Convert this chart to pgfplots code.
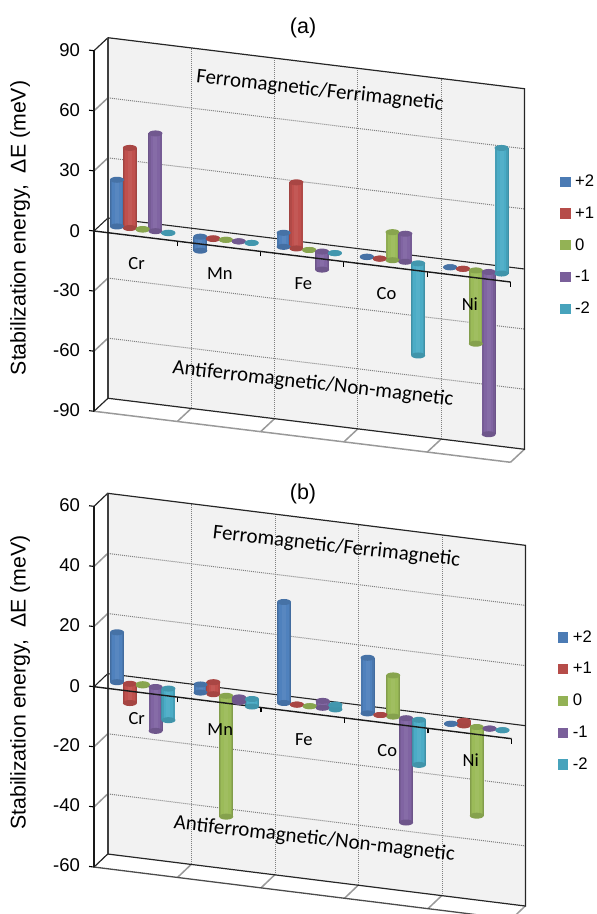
\documentclass[border=0pt]{standalone}
\usepackage{fontspec}
\usepackage{pgfplots}
\usepackage{pgfplotstable}
\pgfplotsset{compat=1.18}
\setmainfont{Liberation Sans}
\newfontfamily\calib{Carlito}
\definecolor{cA}{HTML}{4F81BD}
\definecolor{cB}{HTML}{C0504D}
\definecolor{cC}{HTML}{9BBB59}
\definecolor{cD}{HTML}{8064A2}
\definecolor{cE}{HTML}{4BACC6}
\definecolor{wallc}{HTML}{F2F2F2}
\pgfdeclareplotmark{cyl}{\pgfpathellipse{\pgfpointorigin}{\pgfqpoint{7pt}{0pt}}{\pgfqpoint{0pt}{3pt}}\pgfusepathqfill}
\newcommand\fz[1]{\fontsize{#1}{#1}\selectfont}
% every category has three rows: lower end of the bar, upper end, gap
% #1 colour, #2 x offset within the category, #3 column, #4 table, #5 legend text
\newcommand\cylpass[5]{\addplot[forget plot,barshift,unbounded coords=jump,no markers,line width=#1,color=#2] table[x expr=\thisrow{c}+#3,y=#4] {#5};}
\newcommand\cyl[5]{%
 \addplot[forget plot,barshift,lowrows,draw=none,only marks,mark=cyl,mark options={draw=none,fill=#1!86!black}] table[x expr=\thisrow{c}+#2,y=#3] {#4};
 \cylpass{14pt}{#1!84!black}{#2}{#3}{#4}
 \cylpass{12.4pt}{#1!92!black}{#2}{#3}{#4}
 \cylpass{9.6pt}{#1}{#2}{#3}{#4}
 \cylpass{4pt}{#1!95!white}{#2}{#3}{#4}
 \addplot[forget plot,barshift,highrows,draw=none,only marks,mark=cyl,mark options={draw=none,fill=#1!88!black}] table[x expr=\thisrow{c}+#2,y=#3] {#4};
 \addlegendimage{legend image code/.code={\fill[#1!95!black] (0pt,-4.7pt) rectangle (9.4pt,4.7pt);\path (12.5pt,0pt);}}
 \addlegendentry{#5}
}
\newcommand\allcyl[1]{%
 \cyl{cA}{0.192}{p2}{#1}{+2}
 \cyl{cB}{0.346}{p1}{#1}{+1}
 \cyl{cC}{0.5}{z}{#1}{0}
 \cyl{cD}{0.654}{m1}{#1}{-1}
 \cyl{cE}{0.808}{m2}{#1}{-2}
}
\pgfplotsset{
 lowrows/.style={skip coords between index={1}{3},skip coords between index={4}{6},skip coords between index={7}{9},skip coords between index={10}{12},skip coords between index={13}{15}},
 highrows/.style={skip coords between index={0}{1},skip coords between index={2}{4},skip coords between index={5}{7},skip coords between index={8}{10},skip coords between index={11}{13},skip coords between index={14}{15}},
 barshift/.style={shift={(7pt,6.5pt)}},
 wshift/.style={shift={(14pt,13pt)}},
 griddot/.style={densely dotted,line width=1pt,color=black!50},
 conn/.style={line width=1.5pt,color=black!40},
 panel/.style={
  anchor=origin,clip=false,axis on top,xmin=0,xmax=5,
  axis y line=left,axis x line=middle,axis line style={-,line width=1.3pt,color=black!90},
  x axis line style={line width=1.4pt},
  xtick={1,2,3,4,5},xticklabels={},
  xtick style={draw=black,line width=1.1pt},
  xticklabel style={font=\calib\fz{18.5},anchor=center,yshift=-27pt,xshift=1pt},
  extra x ticks={0.5,1.5,2.5,3.5,4.5},extra x tick labels={Cr,Mn,Fe,Co,Ni},
  extra x tick style={major tick length=0pt},
  ytick style={draw=black,line width=1.1pt},
  major tick length=5pt,tick align=outside,
  yticklabel style={font=\fz{18.5},inner xsep=9pt,yshift=-2pt},
  /pgf/number format/assume math mode=true,
  every axis y label/.style={rotate=90,anchor=center,font=\fz{21.3}},
  title style={anchor=center,font=\fz{21.5},yshift=-8pt},
  legend style={draw=none,fill=none,inner sep=0pt,anchor=west,font=\fz{16.7},row sep=14.7pt,legend cell align=left},
 },
}
\pgfplotstableread{
c p2 p1 z m1 m2
0 0 0 0 0 -0.2
0 23.3 40 0.3 48.8 0
0 nan nan nan nan nan
1 -7 -0.4 0 0 0
1 0 0 0 0 0
1 nan nan nan nan nan
2 0 0 0 -9 0
2 7 33 0 0 0
2 nan nan nan nan nan
3 0 0 0 0 -46
3 0.2 0 14 14 0
3 nan nan nan nan nan
4 0 0 -36.6 -81 0
4 0 0 0 0 62.7
4 nan nan nan nan nan
}\dataA
\pgfplotstableread{
c p2 p1 z m1 m2
0 0 -6.4 0 -14.6 -10.5
0 16.6 0 0.4 0 0
0 nan nan nan nan nan
1 0 0 -40.2 -1.5 -2.5
1 2.7 4 0 0 0
1 nan nan nan nan nan
2 0 0 0 0 0
2 33.6 0 0 2.3 1.6
2 nan nan nan nan nan
3 0 0 0 -34.7 -15
3 18.5 0 13.7 0 0
3 nan nan nan nan nan
4 0 0 -29.5 0 0
4 0 1.5 0 0 0
4 nan nan nan nan nan
}\dataB
\begin{document}
\begin{tikzpicture}
\path[use as bounding box] (0pt,0pt) rectangle (597pt,914pt);
% ---------- panel (a)
\begin{axis}[panel,at={(94pt,683pt)},x={(83.3pt,-10.2pt)},y={(0pt,2.003pt)},
 ymin=-90,ymax=90,ytick={-90,-60,-30,0,30,60,90},
 title={(a)},title style={at={(axis cs:2.51,115.2)}},
 ylabel={Stabilization energy,\ \ ΔE (meV)},
 ylabel style={at={(axis cs:-0.888,-3.0)}},
 legend style={at={(axis cs:5.594,21.5)}},
]
\addplot[forget plot,fill=wallc,draw=none,wshift] coordinates {(0,-90)(0,90)(5,90)(5,-90)} --cycle;
\pgfplotsinvokeforeach{-60,-30,30,60}{\addplot[forget plot,griddot,wshift] coordinates {(0,#1)(5,#1)};}
\pgfplotsinvokeforeach{1,2,3,4}{\addplot[forget plot,griddot,wshift] coordinates {(#1,-90)(#1,90)};}
\addplot[forget plot,conn] coordinates {(0,60)(0.168,67.36)};
\addplot[forget plot,conn] coordinates {(0,30)(0.168,37.36)};
\addplot[forget plot,conn] coordinates {(0,-30)(0.168,-22.64)};
\addplot[forget plot,conn] coordinates {(0,-60)(0.168,-52.64)};
\addplot[forget plot,conn] coordinates {(1,-90)(1.168,-82.64)};
\addplot[forget plot,conn] coordinates {(2,-90)(2.168,-82.64)};
\addplot[forget plot,conn] coordinates {(3,-90)(3.168,-82.64)};
\addplot[forget plot,conn] coordinates {(4,-90)(4.168,-82.64)};
\addplot[forget plot,conn] coordinates {(5,-90)(5.168,-82.64)};
\addplot[forget plot,conn] coordinates {(0,-90)(5,-90)};
\addplot[forget plot,line width=1.2pt,color=black!85] coordinates {(0,90)(0.168,97.36)};
\addplot[forget plot,line width=1.2pt,color=black!85] coordinates {(0,-90)(0.168,-82.64)};
\addplot[forget plot,line width=1.1pt,color=black!85] coordinates {(0,0)(0.168,7.36)};
\addplot[forget plot,line width=1.2pt,color=black!75,wshift] coordinates {(0,-90)(0,90)};
\addplot[forget plot,line width=1.2pt,color=black!85,wshift] coordinates {(0,90)(5,90)(5,-90)(0,-90)};
\addplot[forget plot,line width=1.1pt,color=black!85,wshift] coordinates {(0,0)(5,0)};
\allcyl{\dataA}
\end{axis}
% ---------- panel (b)
\begin{axis}[panel,at={(94pt,227.3pt)},x={(83.5pt,-10.4pt)},y={(0pt,3.006pt)},
 ymin=-60,ymax=60,ytick={-60,-40,-20,0,20,40,60},
 title={(b)},title style={at={(axis cs:2.503,73.4)}},
 ylabel={Stabilization energy,\ \ ΔE (meV)},
 ylabel style={at={(axis cs:-0.886,-1.67)}},
 legend style={at={(axis cs:5.553,14.55)}},
]
\addplot[forget plot,fill=wallc,draw=none,wshift] coordinates {(0,-60)(0,60)(5,60)(5,-60)} --cycle;
\pgfplotsinvokeforeach{-40,-20,20,40}{\addplot[forget plot,griddot,wshift] coordinates {(0,#1)(5,#1)};}
\pgfplotsinvokeforeach{1,2,3,4}{\addplot[forget plot,griddot,wshift] coordinates {(#1,-60)(#1,60)};}
\addplot[forget plot,conn] coordinates {(0,40)(0.168,45.02)};
\addplot[forget plot,conn] coordinates {(0,20)(0.168,25.02)};
\addplot[forget plot,conn] coordinates {(0,-20)(0.168,-14.98)};
\addplot[forget plot,conn] coordinates {(0,-40)(0.168,-34.98)};
\addplot[forget plot,conn] coordinates {(1,-60)(1.168,-54.98)};
\addplot[forget plot,conn] coordinates {(2,-60)(2.168,-54.98)};
\addplot[forget plot,conn] coordinates {(3,-60)(3.168,-54.98)};
\addplot[forget plot,conn] coordinates {(4,-60)(4.168,-54.98)};
\addplot[forget plot,conn] coordinates {(5,-60)(5.168,-54.98)};
\addplot[forget plot,line width=1.3pt,color=black!70] coordinates {(0,-60)(5,-60)};
\addplot[forget plot,line width=1.2pt,color=black!85] coordinates {(0,60)(0.168,65.02)};
\addplot[forget plot,line width=1.2pt,color=black!85] coordinates {(0,-60)(0.168,-54.98)};
\addplot[forget plot,line width=1.1pt,color=black!85] coordinates {(0,0)(0.168,5.02)};
\addplot[forget plot,line width=1.2pt,color=black!75,wshift] coordinates {(0,-60)(0,60)};
\addplot[forget plot,line width=1.2pt,color=black!85,wshift] coordinates {(0,60)(5,60)(5,-60)(0,-60)};
\addplot[forget plot,line width=1.1pt,color=black!85,wshift] coordinates {(0,0)(5,0)};
\allcyl{\dataB}
\end{axis}
% ---------- annotations
\node[font=\calib\fz{20.9},rotate=-6.3] at (320pt,823pt) {Ferromagnetic/Ferrimagnetic};
\node[font=\calib\fz{20.9},rotate=-6.5] at (313pt,530pt) {Antiferromagnetic/Non-magnetic};
\node[font=\calib\fz{20.9},rotate=-6.3] at (336.5pt,367pt) {Ferromagnetic/Ferrimagnetic};
\node[font=\calib\fz{20.9},rotate=-6.5] at (314.3pt,75pt) {Antiferromagnetic/Non-magnetic};
\end{tikzpicture}
\end{document}
